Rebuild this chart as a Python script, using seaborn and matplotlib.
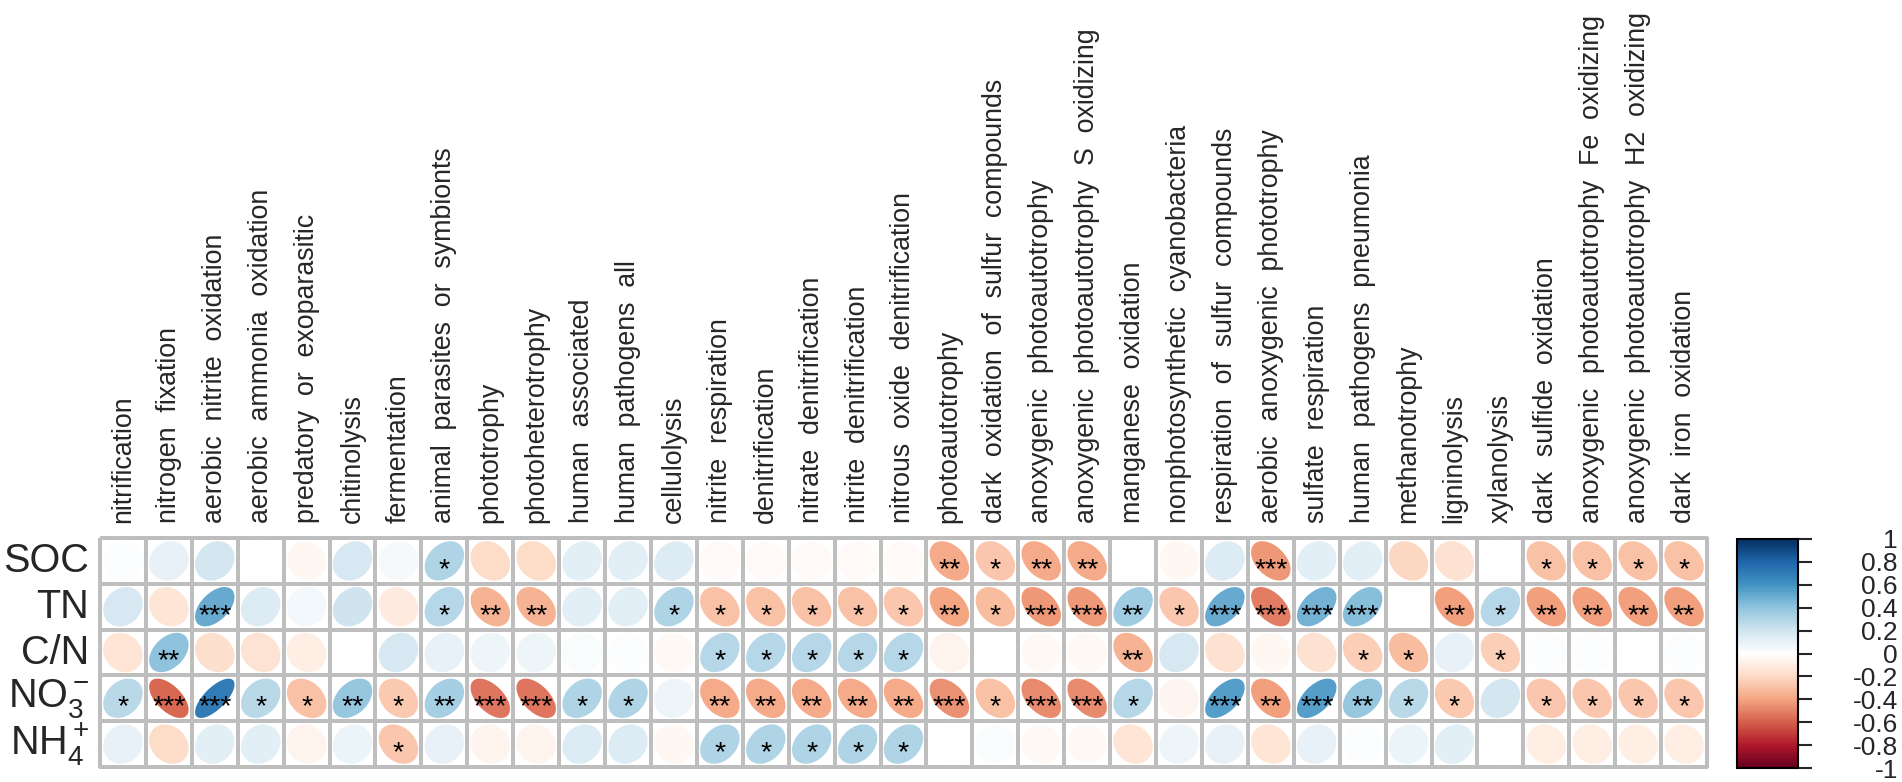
import numpy as np
import pandas as pd
import matplotlib
matplotlib.use("Agg")
import matplotlib.pyplot as plt
import seaborn as sns
from matplotlib.colors import LinearSegmentedColormap, ListedColormap, Normalize
from matplotlib.patches import Ellipse
from matplotlib.cm import ScalarMappable

# ---------------- data ----------------
functions = ["nitrification", "nitrogen  fixation", "aerobic  nitrite  oxidation",
             "aerobic  ammonia  oxidation", "predatory  or  exoparasitic", "chitinolysis",
             "fermentation", "animal  parasites  or  symbionts", "phototrophy",
             "photoheterotrophy", "human  associated", "human  pathogens  all",
             "cellulolysis", "nitrite  respiration", "denitrification",
             "nitrate  denitrification", "nitrite  denitrification",
             "nitrous  oxide  denitrification", "photoautotrophy",
             "dark  oxidation  of  sulfur  compounds", "anoxygenic  photoautotrophy",
             "anoxygenic  photoautotrophy  S  oxidizing", "manganese  oxidation",
             "nonphotosynthetic  cyanobacteria", "respiration  of  sulfur  compounds",
             "aerobic  anoxygenic  phototrophy", "sulfate  respiration",
             "human  pathogens  pneumonia", "methanotrophy", "ligninolysis", "xylanolysis",
             "dark  sulfide  oxidation", "anoxygenic  photoautotrophy  Fe  oxidizing",
             "anoxygenic  photoautotrophy  H2  oxidizing", "dark  iron  oxidation"]

variables = ["SOC", "TN", "C/N", r"NO$_3^-$", r"NH$_4^+$"]

r_SOC = [0.01, 0.10, 0.18, 0.0, -0.05, 0.17, 0.04, 0.30, -0.20, -0.20, 0.13, 0.12, 0.15,
         -0.03, -0.03, -0.03, -0.03, -0.03, -0.38, -0.28, -0.38, -0.38, -0.01, -0.05, 0.15,
         -0.44, 0.12, 0.12, -0.22, -0.17, 0.0, -0.30, -0.30, -0.30, -0.30]
s_SOC = [0, 0, 0, 0, 0, 0, 0, 1, 0, 0, 0, 0, 0, 0, 0, 0, 0, 0, 2, 1, 2, 2, 0, 0, 0,
         3, 0, 0, 0, 0, 0, 1, 1, 1, 1]

r_TN = [0.17, -0.15, 0.50, 0.15, 0.05, 0.20, -0.12, 0.28, -0.35, -0.35, 0.13, 0.13, 0.30,
        -0.30, -0.30, -0.30, -0.30, -0.28, -0.40, -0.32, -0.44, -0.44, 0.35, -0.28, 0.50,
        -0.52, 0.47, 0.42, 0.0, -0.42, 0.28, -0.42, -0.42, -0.42, -0.42]
s_TN = [0, 0, 3, 0, 0, 0, 0, 1, 2, 2, 0, 0, 1, 1, 1, 1, 1, 1, 2, 1, 3, 3, 2, 1, 3,
        3, 3, 3, 0, 2, 1, 2, 2, 2, 2]

r_CN = [-0.15, 0.40, -0.18, -0.16, -0.10, 0.0, 0.17, 0.10, 0.07, 0.07, 0.02, 0.01, -0.04,
        0.28, 0.28, 0.28, 0.28, 0.28, -0.07, 0.0, -0.04, -0.04, -0.35, 0.17, -0.17,
        -0.05, -0.17, -0.25, -0.32, 0.10, -0.25, 0.01, 0.01, 0.0, 0.01]
s_CN = [0, 2, 0, 0, 0, 0, 0, 0, 0, 0, 0, 0, 0, 1, 1, 1, 1, 1, 0, 0, 0, 0, 2, 0, 0,
        0, 0, 1, 1, 0, 1, 0, 0, 0, 0]

r_NO3 = [0.27, -0.58, 0.70, 0.27, -0.30, 0.38, -0.27, 0.33, -0.54, -0.54, 0.30, 0.30, 0.07,
         -0.38, -0.38, -0.38, -0.38, -0.38, -0.46, -0.30, -0.48, -0.48, 0.28, -0.06, 0.55,
         -0.42, 0.55, 0.38, 0.27, -0.27, 0.18, -0.28, -0.28, -0.28, -0.28]
s_NO3 = [1, 3, 3, 1, 1, 2, 1, 2, 3, 3, 1, 1, 0, 2, 2, 2, 2, 2, 3, 1, 3, 3, 1, 0, 3,
         2, 3, 2, 1, 1, 0, 1, 1, 1, 1]

r_NH4 = [0.10, -0.20, 0.13, 0.13, -0.07, 0.08, -0.28, 0.10, -0.07, -0.07, 0.15, 0.15, -0.05,
         0.30, 0.30, 0.30, 0.30, 0.30, 0.0, 0.02, -0.04, -0.04, -0.15, 0.07, 0.10,
         -0.15, 0.10, 0.01, 0.08, 0.13, 0.0, -0.10, -0.10, -0.10, -0.10]
s_NH4 = [0, 0, 0, 0, 0, 0, 1, 0, 0, 0, 0, 0, 0, 1, 1, 1, 1, 1, 0, 0, 0, 0, 0, 0, 0,
         0, 0, 0, 0, 0, 0, 0, 0, 0, 0]

cbar_ticks = [-1, -0.8, -0.6, -0.4, -0.2, 0, 0.2, 0.4, 0.6, 0.8, 1]
cbar_labels = ["-1", "-0.8", "-0.6", "-0.4", "-0.2", "0", "0.2", "0.4", "0.6", "0.8", "1"]

corr = pd.DataFrame([r_SOC, r_TN, r_CN, r_NO3, r_NH4], index=variables, columns=functions)
stars = pd.DataFrame([s_SOC, s_TN, s_CN, s_NO3, s_NH4], index=variables, columns=functions)

# ---------------- style ----------------
sns.set_style("white")
plt.rcParams["font.family"] = ["Liberation Sans", "DejaVu Sans"]
plt.rcParams["mathtext.fontset"] = "custom"
plt.rcParams["mathtext.rm"] = "Liberation Sans"
plt.rcParams["mathtext.it"] = "Liberation Sans:italic"
plt.rcParams["mathtext.bf"] = "Liberation Sans:bold"

cmap = LinearSegmentedColormap.from_list(
    "corrRdBu", ["#67001F", "#B2182B", "#D6604D", "#F4A582", "#FDDBC7", "#FFFFFF",
                 "#D1E5F0", "#92C5DE", "#4393C3", "#2166AC", "#053061"], N=200)
norm = Normalize(-1, 1)

W, H = 1902, 782
fig = plt.figure(figsize=(W / 100, H / 100), dpi=100)
ax = fig.add_axes([100 / W, 1 - 767 / H, 1607 / W, 229 / H])
cax = fig.add_axes([1737 / W, 1 - 768 / H, 61 / W, 229 / H])

# grid via seaborn heatmap (white cells, grey lines)
sns.heatmap(np.zeros(corr.shape), ax=ax, cmap=ListedColormap(["white"]), cbar=False,
            linewidths=1.6, linecolor="#BEBEBE", xticklabels=functions,
            yticklabels=variables)
ax.collections[0].set_clip_on(False)

# ellipses
s = 0.43
nrow, ncol = corr.shape
for i in range(nrow):
    for j in range(ncol):
        r = corr.iat[i, j]
        e = Ellipse((j + 0.5, i + 0.5), width=2 * s * np.sqrt(1 + r),
                    height=2 * s * np.sqrt(max(1 - r, 1e-6)), angle=-45,
                    facecolor=cmap(norm(r)), edgecolor="none", zorder=3)
        ax.add_patch(e)
        k = stars.iat[i, j]
        if k > 0:
            ax.text(j + 0.5, i + 0.5 + 0.35, "*" * k, ha="center", va="baseline",
                    fontsize=20.5, color="black", zorder=4)

ax.set_xlim(0, ncol)
ax.set_ylim(nrow, 0)

# labels
ax.xaxis.tick_top()
ax.set_xticks(np.arange(ncol) + 0.5)
ax.set_xticklabels(functions, rotation=90, fontsize=19.3, ha="center", va="bottom")
ax.set_yticks(np.arange(nrow) + 0.5)
ax.set_yticklabels(variables, rotation=0, fontsize=28.5)
ax.tick_params(axis="x", top=True, bottom=False, length=0, pad=11)
ax.tick_params(axis="y", left=True, length=0, pad=8)
ax.set_xlabel("")
ax.set_ylabel("")

# colorbar
cb = fig.colorbar(ScalarMappable(norm=norm, cmap=cmap), cax=cax, ticks=cbar_ticks)
cb.outline.set_linewidth(1.5)
cb.outline.set_edgecolor("black")
cax.set_yticklabels(cbar_labels)
cax.tick_params(axis="y", length=10, width=1.5, direction="out", pad=62,
                labelsize=19, right=True, left=False)
for t in cax.get_yticklabels():
    t.set_ha("right")

fig.savefig("out.png", dpi=100, facecolor="white")
